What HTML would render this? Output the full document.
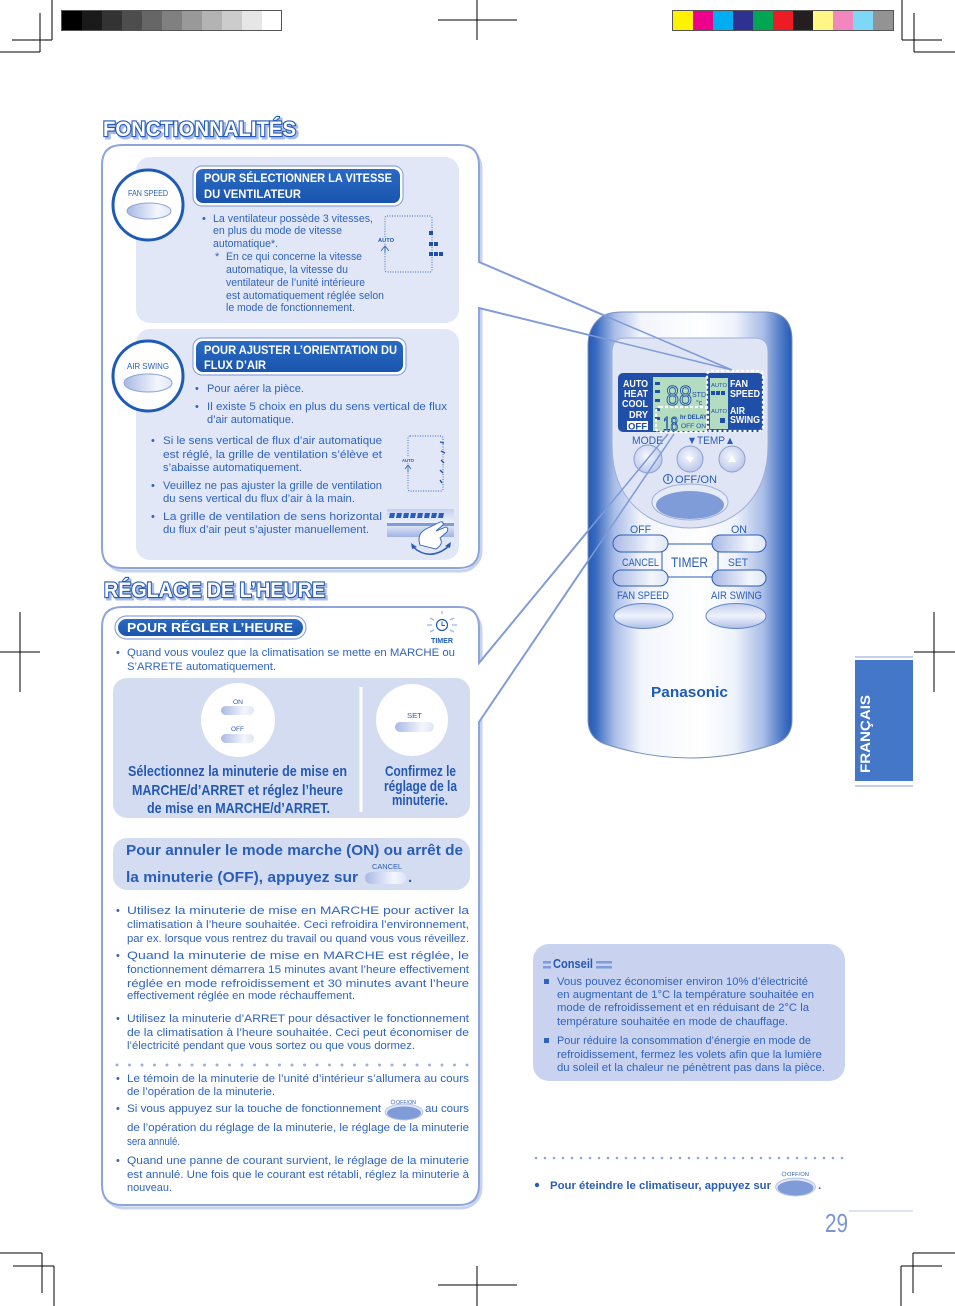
<!DOCTYPE html>
<html><head><meta charset="utf-8"><style>
html,body{margin:0;padding:0;background:#fff;}
svg{display:block;}
.t{font-family:'Liberation Sans',sans-serif;font-size:11px;fill:#2f63be;}
.w{font-family:'Liberation Sans',sans-serif;fill:#fff;font-weight:bold;}
.r{font-family:'Liberation Sans',sans-serif;fill:#2a5db8;}
.b{font-family:'Liberation Sans',sans-serif;font-weight:bold;fill:#2459b3;}
</style></head><body>
<svg width="955" height="1306" viewBox="0 0 955 1306" xmlns="http://www.w3.org/2000/svg">
<defs>
<linearGradient id="body" x1="588" y1="0" x2="792" y2="0" gradientUnits="userSpaceOnUse">
<stop offset="0" stop-color="#2459b5"/><stop offset="0.04" stop-color="#3a6cc0"/><stop offset="0.13" stop-color="#a9bde7"/><stop offset="0.26" stop-color="#f2f5fc"/><stop offset="0.55" stop-color="#ffffff"/><stop offset="0.72" stop-color="#eef2fb"/><stop offset="0.86" stop-color="#a8bce6"/><stop offset="0.95" stop-color="#4b78c6"/><stop offset="1" stop-color="#2459b5"/>
</linearGradient>
<linearGradient id="pill" x1="0" y1="0" x2="1" y2="0"><stop offset="0" stop-color="#a9b9e4"/><stop offset="0.7" stop-color="#f3f6fc"/><stop offset="1" stop-color="#dfe6f6"/></linearGradient>
<linearGradient id="pillv" x1="0" y1="0" x2="0" y2="1"><stop offset="0" stop-color="#c2cdec"/><stop offset="0.5" stop-color="#eef2fb"/><stop offset="1" stop-color="#aebee6"/></linearGradient>
<radialGradient id="rbtn" cx="0.45" cy="0.4" r="0.6"><stop offset="0" stop-color="#f6f8fd"/><stop offset="1" stop-color="#bcc8ea"/></radialGradient>
<linearGradient id="vent" x1="0" y1="0" x2="0" y2="1"><stop offset="0" stop-color="#c4d0ee"/><stop offset="0.5" stop-color="#eef2fb"/><stop offset="1" stop-color="#9fb3e3"/></linearGradient>
<linearGradient id="hdr" x1="0" y1="0" x2="0" y2="1"><stop offset="0" stop-color="#2a6ac4"/><stop offset="1" stop-color="#1a55ad"/></linearGradient>
</defs>

<!-- crop marks -->
<g stroke="#000" stroke-width="1" fill="none">
<path d="M52 0V40M40 13V52M12 40H52M0 52H40"/>
<path d="M902 0V40M914 13V52M902 40H942M914 52H955"/>
<path d="M477 0V40M438 20H517"/>
<path d="M0 1253H42M42 1253V1293M13 1266H54M54 1266V1306"/>
<path d="M913 1253H955M913 1253V1293M901 1266H942M901 1266V1306"/>
<path d="M477 1266V1306M438 1285H517"/>
<path d="M0 652H40M20 612V692"/>
<path d="M934 612V692M914 652H955"/>
</g>
<!-- color bars -->
<g stroke="none">
<rect x="61" y="10" width="221" height="21" fill="#555"/>
<rect x="62" y="11" width="20" height="19" fill="#000"/><rect x="82" y="11" width="20" height="19" fill="#1a1a1a"/><rect x="102" y="11" width="20" height="19" fill="#333"/><rect x="122" y="11" width="20" height="19" fill="#4d4d4d"/><rect x="142" y="11" width="20" height="19" fill="#666"/><rect x="162" y="11" width="20" height="19" fill="#808080"/><rect x="182" y="11" width="20" height="19" fill="#999"/><rect x="202" y="11" width="20" height="19" fill="#b3b3b3"/><rect x="222" y="11" width="20" height="19" fill="#ccc"/><rect x="242" y="11" width="20" height="19" fill="#e6e6e6"/><rect x="262" y="11" width="19" height="19" fill="#fff"/>
<rect x="672" y="10" width="222" height="21" fill="#555"/>
<rect x="673" y="11" width="20" height="19" fill="#fff200"/><rect x="693" y="11" width="20" height="19" fill="#ec008c"/><rect x="713" y="11" width="20" height="19" fill="#00aeef"/><rect x="733" y="11" width="20" height="19" fill="#2e3192"/><rect x="753" y="11" width="20" height="19" fill="#00a651"/><rect x="773" y="11" width="20" height="19" fill="#ed1c24"/><rect x="793" y="11" width="20" height="19" fill="#231f20"/><rect x="813" y="11" width="20" height="19" fill="#fff685"/><rect x="833" y="11" width="20" height="19" fill="#f287c0"/><rect x="853" y="11" width="20" height="19" fill="#7dd8f7"/><rect x="873" y="11" width="20" height="19" fill="#939393"/>
</g>

<!-- section titles -->
<text x="105" y="138" font-family="'Liberation Sans',sans-serif" font-weight="bold" font-size="21" textLength="193" lengthAdjust="spacingAndGlyphs" fill="none" stroke="#a9bbe7" stroke-width="3">FONCTIONNALITÉS</text>
<text x="103" y="136" font-family="'Liberation Sans',sans-serif" font-weight="bold" font-size="21" textLength="193" lengthAdjust="spacingAndGlyphs" fill="#fff" stroke="#2459b5" stroke-width="2.2" paint-order="stroke">FONCTIONNALITÉS</text>
<text x="106" y="599" font-family="'Liberation Sans',sans-serif" font-weight="bold" font-size="21" textLength="221" lengthAdjust="spacingAndGlyphs" fill="none" stroke="#a9bbe7" stroke-width="3">RÉGLAGE DE L’HEURE</text>
<text x="104" y="597" font-family="'Liberation Sans',sans-serif" font-weight="bold" font-size="21" textLength="221" lengthAdjust="spacingAndGlyphs" fill="#fff" stroke="#2459b5" stroke-width="2.2" paint-order="stroke">RÉGLAGE DE L’HEURE</text>

<!-- Fonctionnalites panel -->
<rect x="104" y="148" width="377" height="423" rx="20" fill="none" stroke="#c6d2f0" stroke-width="3"/>
<path d="M122 145H459Q479 145 479 165V262L732 370L479 308V548Q479 568 459 568H122Q102 568 102 548V165Q102 145 122 145Z" fill="#fff" stroke="#8ea5dc" stroke-width="2"/>
<rect x="136" y="157" width="323" height="166" rx="14" fill="#e1e7f6"/>
<rect x="136" y="329" width="323" height="231" rx="14" fill="#e1e7f6"/>

<!-- fan speed circle -->
<circle cx="148" cy="205" r="35" fill="#fff" stroke="#1e5bb5" stroke-width="3"/>
<text x="128" y="196" class="r" font-size="8.5" textLength="40" lengthAdjust="spacingAndGlyphs">FAN SPEED</text>
<ellipse cx="149" cy="211" rx="22" ry="8" fill="url(#pill)" stroke="#8fa3d8" stroke-width="1"/>
<!-- air swing circle -->
<circle cx="148" cy="376" r="35" fill="#fff" stroke="#1e5bb5" stroke-width="3"/>
<text x="127" y="369" class="r" font-size="8.5" textLength="42" lengthAdjust="spacingAndGlyphs">AIR SWING</text>
<ellipse cx="148" cy="383" rx="24" ry="9" fill="url(#pill)" stroke="#8fa3d8" stroke-width="1"/>

<!-- header 1 -->
<rect x="193" y="166" width="210" height="40" rx="9" fill="#fff" stroke="#8ea5dc" stroke-width="1.2"/>
<rect x="196" y="169" width="204" height="34" rx="7" fill="url(#hdr)"/>
<text x="204" y="182" class="w" font-size="12" textLength="188" lengthAdjust="spacingAndGlyphs">POUR SÉLECTIONNER LA VITESSE</text>
<text x="204" y="198" class="w" font-size="12" textLength="97" lengthAdjust="spacingAndGlyphs">DU VENTILATEUR</text>

<g class="t">
<text x="202" y="222">•</text>
<text x="213" y="222" textLength="160" lengthAdjust="spacingAndGlyphs">La ventilateur possède 3 vitesses,</text>
<text x="213" y="234" textLength="129" lengthAdjust="spacingAndGlyphs">en plus du mode de vitesse</text>
<text x="213" y="247" textLength="65" lengthAdjust="spacingAndGlyphs">automatique*.</text>
<text x="215" y="260">*</text>
<text x="226" y="260" textLength="136" lengthAdjust="spacingAndGlyphs">En ce qui concerne la vitesse</text>
<text x="226" y="273" textLength="122" lengthAdjust="spacingAndGlyphs">automatique, la vitesse du</text>
<text x="226" y="286" textLength="139" lengthAdjust="spacingAndGlyphs">ventilateur de l’unité intérieure</text>
<text x="226" y="299" textLength="158" lengthAdjust="spacingAndGlyphs">est automatiquement réglée selon</text>
<text x="226" y="311" textLength="129" lengthAdjust="spacingAndGlyphs">le mode de fonctionnement.</text>
</g>
<!-- fan diagram -->
<rect x="385" y="216" width="47" height="56" rx="2" fill="none" stroke="#2f63be" stroke-width="0.9" stroke-dasharray="1 1.5"/>
<rect x="377" y="237" width="18" height="6" fill="#e1e7f6"/>
<text x="378" y="242" font-family="'Liberation Sans',sans-serif" font-weight="bold" font-size="5.5" fill="#1e5bb5" textLength="16" lengthAdjust="spacingAndGlyphs">AUTO</text>
<path d="M381 251L385 246L389 251M385 246V253" stroke="#2f63be" stroke-width="0.9" fill="none"/>
<g fill="#1e4fa6"><rect x="429" y="231" width="4" height="4"/><rect x="429" y="242" width="4" height="4"/><rect x="434" y="242" width="4" height="4"/><rect x="429" y="252" width="4" height="4"/><rect x="434" y="252" width="4" height="4"/><rect x="439" y="252" width="4" height="4"/></g>

<!-- header 2 -->
<rect x="193" y="338" width="213" height="37" rx="9" fill="#fff" stroke="#8ea5dc" stroke-width="1.2"/>
<rect x="196" y="341" width="207" height="31" rx="7" fill="url(#hdr)"/>
<text x="204" y="354" class="w" font-size="12" textLength="193" lengthAdjust="spacingAndGlyphs">POUR AJUSTER L’ORIENTATION DU</text>
<text x="204" y="369" class="w" font-size="12" textLength="62" lengthAdjust="spacingAndGlyphs">FLUX D’AIR</text>

<g class="t">
<text x="195" y="392">•</text>
<text x="207" y="392" textLength="97" lengthAdjust="spacingAndGlyphs">Pour aérer la pièce.</text>
<text x="195" y="410">•</text>
<text x="207" y="410" textLength="240" lengthAdjust="spacingAndGlyphs">Il existe 5 choix en plus du sens vertical de flux</text>
<text x="207" y="423" textLength="87" lengthAdjust="spacingAndGlyphs">d’air automatique.</text>
<text x="151" y="444">•</text>
<text x="163" y="444" textLength="219" lengthAdjust="spacingAndGlyphs">Si le sens vertical de flux d’air automatique</text>
<text x="163" y="458" textLength="219" lengthAdjust="spacingAndGlyphs">est réglé, la grille de ventilation s’élève et</text>
<text x="163" y="471" textLength="139" lengthAdjust="spacingAndGlyphs">s’abaisse automatiquement.</text>
<text x="151" y="489">•</text>
<text x="163" y="489" textLength="219" lengthAdjust="spacingAndGlyphs">Veuillez ne pas ajuster la grille de ventilation</text>
<text x="163" y="502" textLength="192" lengthAdjust="spacingAndGlyphs">du sens vertical du flux d’air à la main.</text>
<text x="151" y="520">•</text>
<text x="163" y="520" textLength="219" lengthAdjust="spacingAndGlyphs">La grille de ventilation de sens horizontal</text>
<text x="163" y="533" textLength="206" lengthAdjust="spacingAndGlyphs">du flux d’air peut s’ajuster manuellement.</text>
</g>
<!-- swing diagram -->
<rect x="408" y="436" width="35" height="55" rx="2" fill="none" stroke="#2f63be" stroke-width="0.9" stroke-dasharray="1 1.5"/>
<rect x="401" y="457" width="15" height="6" fill="#e1e7f6"/>
<text x="402" y="462" font-family="'Liberation Sans',sans-serif" font-weight="bold" font-size="4.5" fill="#1e5bb5" textLength="12" lengthAdjust="spacingAndGlyphs">AUTO</text>
<path d="M405 469L408 465L411 469M408 465V472" stroke="#2f63be" stroke-width="0.8" fill="none"/>
<g stroke="#1e4fa6" stroke-width="1.4"><path d="M440 442l4 1M441 451l4 2M441 460l3 3M440 470l3 3M440 480l2 3"/></g>
<!-- vent image -->
<rect x="387" y="509" width="67" height="28" fill="url(#vent)"/>
<g fill="#2a5db8"><path d="M390 513h5l-1 5h-5z"/><path d="M397 513h5l-1 5h-5z"/><path d="M404 513h5l-1 5h-5z"/><path d="M411 513h5l-1 5h-5z"/><path d="M418 513h5l-1 5h-5z"/><path d="M425 513h5l-1 5h-5z"/><path d="M432 513h5l-1 5h-5z"/><path d="M439 513h5l-1 5h-5z"/></g>
<rect x="387" y="523" width="67" height="3" fill="#7f9bd8"/>
<path d="M420 545Q416 533 428 528L440 522Q444 521 443 525L436 531L446 527Q449 528 447 532L440 538Q444 544 436 549Z" fill="#fff" stroke="#2a5db8" stroke-width="0.9"/>
<path d="M413 547Q430 562 449 546" stroke="#2a5db8" stroke-width="1.5" fill="none"/>
<path d="M411 543l1 6l5-2z M451 542l-1 6l-5-2z" fill="#2a5db8"/>

<!-- Reglage panel -->
<rect x="104" y="610" width="377" height="598" rx="20" fill="none" stroke="#c6d2f0" stroke-width="3"/>
<path d="M122 607H459Q479 607 479 627V663L668 434L674 434L479 722V1185Q479 1205 459 1205H122Q102 1205 102 1185V627Q102 607 122 607Z" fill="#fff" stroke="#8ea5dc" stroke-width="2"/>
<rect x="115" y="616" width="191" height="23" rx="11.5" fill="#fff" stroke="#8ea5dc" stroke-width="1.2"/>
<rect x="118" y="619" width="185" height="17" rx="8.5" fill="url(#hdr)"/>
<text x="127" y="632" class="w" font-size="13" textLength="166" lengthAdjust="spacingAndGlyphs">POUR RÉGLER L’HEURE</text>
<!-- timer icon -->
<circle cx="442" cy="625" r="5.5" fill="#fff" stroke="#1e5bb5" stroke-width="1.2"/>
<path d="M442 621.5V625.5H445" stroke="#1e5bb5" stroke-width="1" fill="none"/>
<g stroke="#9fb4e6" stroke-width="1.3"><path d="M427 625h5M452 625h5M430 618l4 2M430 632l4-2M454 618l-4 2M454 632l-4-2M442 614v-3"/></g>
<text x="431" y="643" font-family="'Liberation Sans',sans-serif" font-weight="bold" font-size="7.5" fill="#1e5bb5" textLength="22" lengthAdjust="spacingAndGlyphs">TIMER</text>
<g class="t">
<text x="116" y="656">•</text>
<text x="127" y="656" textLength="328" lengthAdjust="spacingAndGlyphs">Quand vous voulez que la climatisation se mette en MARCHE ou</text>
<text x="127" y="670" textLength="149" lengthAdjust="spacingAndGlyphs">S’ARRETE automatiquement.</text>
</g>
<rect x="113" y="678" width="357" height="140" rx="14" fill="#d4dcf2"/>
<rect x="359.5" y="687" width="3" height="125" fill="#fff"/>
<circle cx="238" cy="720" r="37" fill="#fff"/>
<text x="233" y="704" class="r" font-size="6.5" textLength="10" lengthAdjust="spacingAndGlyphs">ON</text>
<rect x="221" y="706" width="33" height="9" rx="4.5" fill="url(#pill)"/>
<text x="231" y="731" class="r" font-size="6.5" textLength="13" lengthAdjust="spacingAndGlyphs">OFF</text>
<rect x="221" y="734" width="33" height="9" rx="4.5" fill="url(#pill)"/>
<circle cx="412" cy="720" r="36" fill="#fff"/>
<text x="407" y="718" class="r" font-size="7" textLength="15" lengthAdjust="spacingAndGlyphs">SET</text>
<rect x="395" y="722" width="39" height="10" rx="5" fill="url(#pill)"/>
<g class="b" font-size="15">
<text x="128" y="776" textLength="219" lengthAdjust="spacingAndGlyphs">Sélectionnez la minuterie de mise en</text>
<text x="132" y="795" textLength="211" lengthAdjust="spacingAndGlyphs">MARCHE/d’ARRET et réglez l’heure</text>
<text x="147" y="813" textLength="183" lengthAdjust="spacingAndGlyphs">de mise en MARCHE/d’ARRET.</text>
<text x="385" y="776" textLength="71" lengthAdjust="spacingAndGlyphs">Confirmez le</text>
<text x="384" y="791" textLength="73" lengthAdjust="spacingAndGlyphs">réglage de la</text>
<text x="392" y="805" textLength="56" lengthAdjust="spacingAndGlyphs">minuterie.</text>
</g>
<rect x="113" y="838" width="357" height="52" rx="14" fill="#d4dcf2"/>
<g font-family="'Liberation Sans',sans-serif" font-weight="bold" font-size="15" fill="#2a5db8">
<text x="126" y="855" textLength="337" lengthAdjust="spacingAndGlyphs">Pour annuler le mode marche (ON) ou arrêt de</text>
<text x="126" y="882" textLength="232" lengthAdjust="spacingAndGlyphs">la minuterie (OFF), appuyez sur</text>
<text x="408" y="882">.</text>
</g>
<text x="372" y="869" class="r" font-size="7" textLength="30" lengthAdjust="spacingAndGlyphs">CANCEL</text>
<rect x="365" y="872" width="41" height="12" rx="6" fill="url(#pill)"/>

<g class="t">
<text x="116" y="914">•</text>
<text x="127" y="914" textLength="342" lengthAdjust="spacingAndGlyphs">Utilisez la minuterie de mise en MARCHE pour activer la</text>
<text x="127" y="928" textLength="342" lengthAdjust="spacingAndGlyphs">climatisation à l’heure souhaitée. Ceci refroidira l’environnement,</text>
<text x="127" y="942" textLength="342" lengthAdjust="spacingAndGlyphs">par ex. lorsque vous rentrez du travail ou quand vous vous réveillez.</text>
<text x="116" y="959">•</text>
<text x="127" y="959" textLength="342" lengthAdjust="spacingAndGlyphs">Quand la minuterie de mise en MARCHE est réglée, le</text>
<text x="127" y="973" textLength="342" lengthAdjust="spacingAndGlyphs">fonctionnement démarrera 15 minutes avant l’heure effectivement</text>
<text x="127" y="987" textLength="342" lengthAdjust="spacingAndGlyphs">réglée en mode refroidissement et 30 minutes avant l’heure</text>
<text x="127" y="999" textLength="228" lengthAdjust="spacingAndGlyphs">effectivement réglée en mode réchauffement.</text>
<text x="116" y="1022">•</text>
<text x="127" y="1022" textLength="342" lengthAdjust="spacingAndGlyphs">Utilisez la minuterie d’ARRET pour désactiver le fonctionnement</text>
<text x="127" y="1036" textLength="342" lengthAdjust="spacingAndGlyphs">de la climatisation à l’heure souhaitée. Ceci peut économiser de</text>
<text x="127" y="1049" textLength="288" lengthAdjust="spacingAndGlyphs">l’électricité pendant que vous sortez ou que vous dormez.</text>
<text x="116" y="1082">•</text>
<text x="127" y="1082" textLength="342" lengthAdjust="spacingAndGlyphs">Le témoin de la minuterie de l’unité d’intérieur s’allumera au cours</text>
<text x="127" y="1095" textLength="148" lengthAdjust="spacingAndGlyphs">de l’opération de la minuterie.</text>
<text x="116" y="1112">•</text>
<text x="127" y="1112" textLength="254" lengthAdjust="spacingAndGlyphs">Si vous appuyez sur la touche de fonctionnement</text>
<text x="425" y="1112" textLength="44" lengthAdjust="spacingAndGlyphs">au cours</text>
<text x="127" y="1131" textLength="342" lengthAdjust="spacingAndGlyphs">de l’opération du réglage de la minuterie, le réglage de la minuterie</text>
<text x="127" y="1145" textLength="53" lengthAdjust="spacingAndGlyphs">sera annulé.</text>
<text x="116" y="1164">•</text>
<text x="127" y="1164" textLength="342" lengthAdjust="spacingAndGlyphs">Quand une panne de courant survient, le réglage de la minuterie</text>
<text x="127" y="1178" textLength="342" lengthAdjust="spacingAndGlyphs">est annulé. Une fois que le courant est rétabli, réglez la minuterie à</text>
<text x="127" y="1191" textLength="45" lengthAdjust="spacingAndGlyphs">nouveau.</text>
</g>
<line x1="117" y1="1065" x2="470" y2="1065" stroke="#9cb0e2" stroke-width="3" stroke-linecap="round" stroke-dasharray="0 12.5"/>
<!-- off/on small button in text -->
<circle cx="393" cy="1102" r="2" fill="none" stroke="#2a5db8" stroke-width="0.6"/>
<text x="396" y="1104" class="r" font-size="5" textLength="20" lengthAdjust="spacingAndGlyphs">OFF/ON</text>
<ellipse cx="404" cy="1112" rx="19" ry="8" fill="#dfe5f5" stroke="#a9b8e0" stroke-width="0.7"/>
<ellipse cx="404" cy="1113" rx="17" ry="6.5" fill="#7f9bd8"/>

<!-- Remote -->
<path d="M588 345Q588 328 600 318Q607 312 622 312H765Q792 312 792 340V720Q792 738 775 744Q690 772 605 744Q588 738 588 720Z" fill="url(#body)" stroke="#7b8fbf" stroke-width="1"/>
<path d="M625 338H755Q768 338 768 352V445C768 500 732 528 690 528C648 528 612 500 612 445V352Q612 338 625 338Z" fill="#dfe5f4" stroke="#9eaed9" stroke-width="1"/>
<!-- LCD -->
<rect x="618" y="373" width="145" height="59" rx="5" fill="#1f4fa8"/>
<rect x="653" y="377" width="54" height="54" fill="#b4dcc0"/>
<rect x="710" y="378" width="18" height="51" fill="#b4dcc0"/>
<g fill="#1e4fa6"><rect x="655" y="382" width="5" height="3"/><rect x="655" y="390" width="5" height="3"/><rect x="655" y="399" width="5" height="3"/><rect x="655" y="408" width="5" height="3"/><rect x="655" y="417" width="5" height="3"/></g>
<text x="666" y="405" font-family="'Liberation Sans',sans-serif" font-size="28" fill="none" stroke="#1e4fa6" stroke-width="1" textLength="26" lengthAdjust="spacingAndGlyphs">88</text>
<text x="692" y="397" font-family="'Liberation Sans',sans-serif" font-size="7" fill="#1e4fa6" textLength="14" lengthAdjust="spacingAndGlyphs">STD</text>
<text x="696" y="405" font-family="'Liberation Sans',sans-serif" font-size="7" fill="#1e4fa6">°c</text>
<text x="663" y="431" font-family="'Liberation Sans',sans-serif" font-size="20" fill="none" stroke="#1e4fa6" stroke-width="1" textLength="15" lengthAdjust="spacingAndGlyphs">18</text>
<text x="680" y="419" font-family="'Liberation Sans',sans-serif" font-weight="bold" font-size="6" fill="#1e4fa6" textLength="27" lengthAdjust="spacingAndGlyphs">hr DELAY</text>
<text x="681" y="428" font-family="'Liberation Sans',sans-serif" font-size="6.5" fill="#1e4fa6" textLength="25" lengthAdjust="spacingAndGlyphs">OFF ON</text>
<text x="711" y="387" font-family="'Liberation Sans',sans-serif" font-size="5.5" fill="#1e4fa6" textLength="16" lengthAdjust="spacingAndGlyphs">AUTO</text>
<g fill="#1e4fa6"><rect x="711" y="391" width="4" height="4"/><rect x="716" y="391" width="4" height="4"/><rect x="721" y="391" width="4" height="4"/><rect x="720" y="418" width="5" height="5"/></g>
<text x="711" y="413" font-family="'Liberation Sans',sans-serif" font-size="5.5" fill="#1e4fa6" textLength="16" lengthAdjust="spacingAndGlyphs">AUTO</text>
<g class="w" font-weight="normal" font-size="10">
<text x="623" y="387" textLength="25" lengthAdjust="spacingAndGlyphs">AUTO</text>
<text x="624" y="397" textLength="24" lengthAdjust="spacingAndGlyphs">HEAT</text>
<text x="622" y="407" textLength="26" lengthAdjust="spacingAndGlyphs">COOL</text>
<text x="629" y="418" textLength="19" lengthAdjust="spacingAndGlyphs">DRY</text>
<text x="730" y="387" textLength="18" lengthAdjust="spacingAndGlyphs">FAN</text>
<text x="730" y="397" textLength="30" lengthAdjust="spacingAndGlyphs">SPEED</text>
<text x="730" y="414" textLength="15" lengthAdjust="spacingAndGlyphs">AIR</text>
<text x="730" y="423" textLength="30" lengthAdjust="spacingAndGlyphs">SWING</text>
</g>
<rect x="627" y="421" width="21" height="9" fill="#fff"/>
<text x="628" y="429.5" font-family="'Liberation Sans',sans-serif" font-weight="bold" font-size="9" fill="#1f4fa8" textLength="19" lengthAdjust="spacingAndGlyphs">OFF</text>
<rect x="707" y="371" width="56" height="60" rx="4" fill="none" stroke="#fff" stroke-width="2.2" stroke-dasharray="3 2"/>
<rect x="656" y="407" width="52" height="25" rx="4" fill="none" stroke="#fff" stroke-width="2.2" stroke-dasharray="3 2"/>
<!-- remote labels -->
<g class="r">
<text x="632" y="444" font-size="11" textLength="31" lengthAdjust="spacingAndGlyphs">MODE</text>
<text x="687" y="444" font-size="11" textLength="48" lengthAdjust="spacingAndGlyphs">▼TEMP▲</text>
<text x="675" y="483" font-size="11" textLength="42" lengthAdjust="spacingAndGlyphs">OFF/ON</text>
<text x="630" y="533" font-size="11" textLength="21" lengthAdjust="spacingAndGlyphs">OFF</text>
<text x="731" y="533" font-size="11" textLength="16" lengthAdjust="spacingAndGlyphs">ON</text>
<text x="622" y="566" font-size="11" textLength="37" lengthAdjust="spacingAndGlyphs">CANCEL</text>
<text x="671" y="567" font-size="14" textLength="37" lengthAdjust="spacingAndGlyphs">TIMER</text>
<text x="728" y="566" font-size="11" textLength="20" lengthAdjust="spacingAndGlyphs">SET</text>
<text x="617" y="599" font-size="11" textLength="52" lengthAdjust="spacingAndGlyphs">FAN SPEED</text>
<text x="711" y="599" font-size="11" textLength="51" lengthAdjust="spacingAndGlyphs">AIR SWING</text>
</g>
<circle cx="668" cy="479" r="4.5" fill="none" stroke="#2a5db8" stroke-width="1"/>
<path d="M668 475.5V481" stroke="#2a5db8" stroke-width="1.2"/>
<circle cx="648" cy="459" r="14" fill="url(#rbtn)" stroke="#8ea0d2" stroke-width="1"/>
<circle cx="690" cy="459" r="13" fill="url(#rbtn)" stroke="#8ea0d2" stroke-width="1"/>
<circle cx="732" cy="459" r="13" fill="url(#rbtn)" stroke="#8ea0d2" stroke-width="1"/>
<path d="M686 457h8l-4 6z" fill="#fff"/><path d="M728 462h8l-4-6z" fill="#fff"/>
<ellipse cx="690" cy="502" rx="38" ry="18" fill="#e6ebf8" stroke="#9eaed9" stroke-width="1"/>
<ellipse cx="690" cy="505" rx="34" ry="14" fill="#7f9bd8"/>
<!-- timer buttons -->
<g fill="url(#pill)" stroke="#2a5db8" stroke-width="1">
<rect x="613" y="535" width="55" height="17" rx="8.5"/>
<rect x="712" y="535" width="54" height="17" rx="8.5"/>
<rect x="613" y="570" width="55" height="16" rx="8"/>
<rect x="712" y="570" width="54" height="16" rx="8"/>
</g>
<path d="M668 544H712M668 577H712M662 552V570M718 552V570" stroke="#2a5db8" stroke-width="1" fill="none"/>
<ellipse cx="643.5" cy="616" rx="29.5" ry="12.5" fill="url(#pillv)" stroke="#5e82c8" stroke-width="1"/>
<ellipse cx="736" cy="616" rx="30" ry="12.5" fill="url(#pillv)" stroke="#5e82c8" stroke-width="1"/>
<text x="651" y="697" font-family="'Liberation Sans',sans-serif" font-weight="bold" font-size="15" fill="#1d5bb5" textLength="77" lengthAdjust="spacingAndGlyphs">Panasonic</text>

<!-- callout lines over remote -->
<g stroke="#7f9bd8" stroke-width="1.5" fill="none">
<path d="M479 262L732 370M479 308L732 370"/>
<path d="M479 663L668 434M479 722L674 434"/>
</g>

<!-- Français tab -->
<rect x="855" y="656" width="58" height="2" fill="#c5d0ee"/>
<rect x="855" y="660" width="58" height="121" fill="#4577c8"/>
<rect x="855" y="785" width="58" height="2" fill="#c5d0ee"/>
<text transform="translate(870,773) rotate(-90)" font-family="'Liberation Sans',sans-serif" font-weight="bold" font-size="14" fill="#fff" textLength="78" lengthAdjust="spacingAndGlyphs">FRANÇAIS</text>

<!-- Conseil -->
<rect x="533" y="944" width="312" height="137" rx="16" fill="#c9d3ef"/>
<g fill="#7f9bd8"><rect x="543" y="961" width="8" height="2.5"/><rect x="543" y="966" width="8" height="2.5"/><rect x="596" y="961" width="16" height="2.5"/><rect x="596" y="966" width="16" height="2.5"/></g>
<text x="553" y="968" font-family="'Liberation Sans',sans-serif" font-weight="bold" font-size="13" fill="#2459b3" textLength="40" lengthAdjust="spacingAndGlyphs">Conseil</text>
<rect x="544" y="979" width="5" height="5" fill="#2f63be"/>
<rect x="544" y="1038" width="5" height="5" fill="#2f63be"/>
<g class="t">
<text x="557" y="985" textLength="251" lengthAdjust="spacingAndGlyphs">Vous pouvez économiser environ 10% d’électricité</text>
<text x="557" y="998" textLength="257" lengthAdjust="spacingAndGlyphs">en augmentant de 1°C la température souhaitée en</text>
<text x="557" y="1011" textLength="252" lengthAdjust="spacingAndGlyphs">mode de refroidissement et en réduisant de 2°C la</text>
<text x="557" y="1025" textLength="231" lengthAdjust="spacingAndGlyphs">température souhaitée en mode de chauffage.</text>
<text x="557" y="1044" textLength="254" lengthAdjust="spacingAndGlyphs">Pour réduire la consommation d’énergie en mode de</text>
<text x="557" y="1058" textLength="265" lengthAdjust="spacingAndGlyphs">refroidissement, fermez les volets afin que la lumière</text>
<text x="557" y="1071" textLength="268" lengthAdjust="spacingAndGlyphs">du soleil et la chaleur ne pénètrent pas dans la pièce.</text>
</g>

<!-- bottom right -->
<line x1="536" y1="1158" x2="849" y2="1158" stroke="#8ea6dc" stroke-width="2.6" stroke-linecap="round" stroke-dasharray="0 9"/>
<circle cx="537" cy="1185" r="2.2" fill="#2a5db8"/>
<text x="550" y="1189" font-family="'Liberation Sans',sans-serif" font-weight="bold" font-size="11" fill="#2a5db8" textLength="221" lengthAdjust="spacingAndGlyphs">Pour éteindre le climatiseur, appuyez sur</text>
<circle cx="784" cy="1174" r="2" fill="none" stroke="#2a5db8" stroke-width="0.6"/>
<text x="787" y="1176" class="r" font-size="5" textLength="22" lengthAdjust="spacingAndGlyphs">OFF/ON</text>
<ellipse cx="795.5" cy="1187" rx="20" ry="9" fill="#dfe5f5" stroke="#a9b8e0" stroke-width="0.7"/>
<ellipse cx="795.5" cy="1188" rx="18" ry="7.5" fill="#7f9bd8"/>
<text x="818" y="1189" font-family="'Liberation Sans',sans-serif" font-weight="bold" font-size="11" fill="#2a5db8">.</text>
<text x="825" y="1232" font-family="'Liberation Sans',sans-serif" font-size="26" fill="#7b94d4" textLength="23" lengthAdjust="spacingAndGlyphs">29</text>
<line x1="849" y1="1211" x2="913" y2="1211" stroke="#b8c6ea" stroke-width="1"/>
</svg>
</body></html>
